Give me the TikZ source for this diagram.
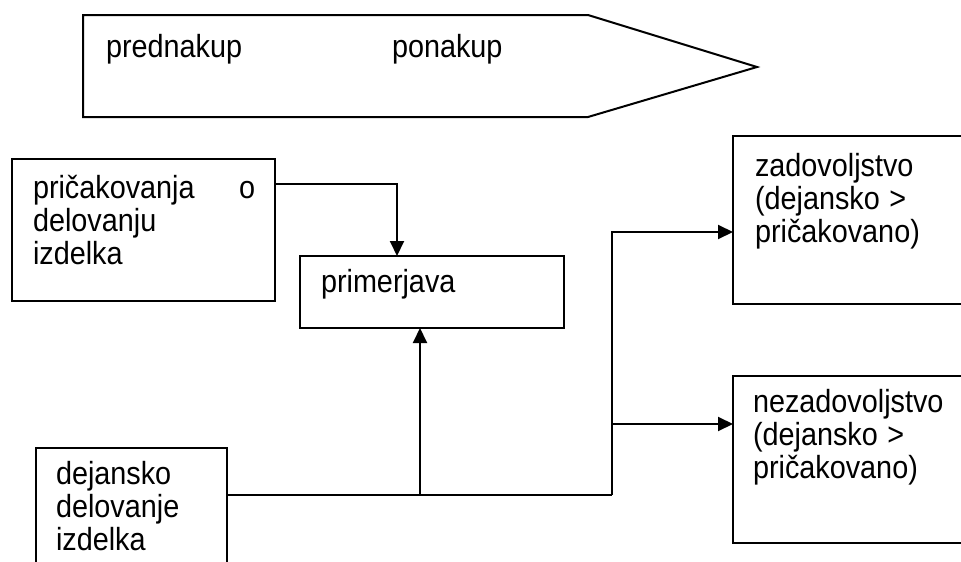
\documentclass[tikz,border=0pt]{standalone}
\usepackage{fontspec}
\setmainfont{Liberation Sans}
\usetikzlibrary{arrows.meta}
\begin{document}
\begin{tikzpicture}[x=1pt,y=-1pt,
  every node/.style={inner sep=0pt, outer sep=0pt},
  box/.style={draw, line width=2pt, anchor=north west},
  lbl/.style={anchor=base west, align=left, xscale=0.9, transform shape, font=\fontsize{32}{33}\selectfont},
  conn/.style={line width=2pt},
  arr/.style={conn, -{Triangle[length=15pt,width=14pt]}}]
\clip (0,0) rectangle (961,562);
\fill[white] (0,0) rectangle (961,562);
% phase arrow
\draw[conn, line join=miter] (83,15) -- (588,15) -- (757,67) -- (588,117) -- (83,117) -- cycle;
\node[lbl] (tpre) at (106,57) {prednakup};
\node[lbl] (tpo) at (392,57) {ponakup};
% boxes
\node[box, minimum width=263pt, minimum height=142pt] (A) at (12,159) {};
\node[box, minimum width=264pt, minimum height=72pt] (B) at (300,256) {};
\node[box, minimum width=260pt, minimum height=168pt] (C) at (733,136) {};
\node[box, minimum width=260pt, minimum height=167pt] (D) at (733,376) {};
\node[box, minimum width=191pt, minimum height=150pt] (E) at (36,448) {};
% texts
\node[lbl, text width=247pt] (tA) at (33,198) {pričakovanja\hfill o\\delovanju\\izdelka};
\node[lbl] (tB) at (321,292) {primerjava};
\node[lbl, text width=220pt] (tC) at (755,176) {zadovoljstvo\\(dejansko >\\pričakovano)};
\node[lbl, text width=220pt] (tD) at (753,412) {nezadovoljstvo\\(dejansko >\\pričakovano)};
\node[lbl, text width=180pt] (tE) at (56,484) {dejansko\\delovanje\\izdelka};
% connectors
\draw[arr] ([yshift=46pt]A.east) -| ([xshift=-35pt]B.north);
\coordinate (e1) at ([yshift=28pt]E.east);
\coordinate (j1) at (612,495);
\coordinate (j2) at (420,495);
\draw[conn] (e1) -- (j1);
\draw[arr] (j2) -- (j2 |- B.south);
\draw[arr] (j1) |- ([yshift=-12pt]C.west);
\coordinate (d1) at ([yshift=35.5pt]D.west);
\draw[arr] (d1 -| j1) -- (d1);
\end{tikzpicture}
\end{document}
